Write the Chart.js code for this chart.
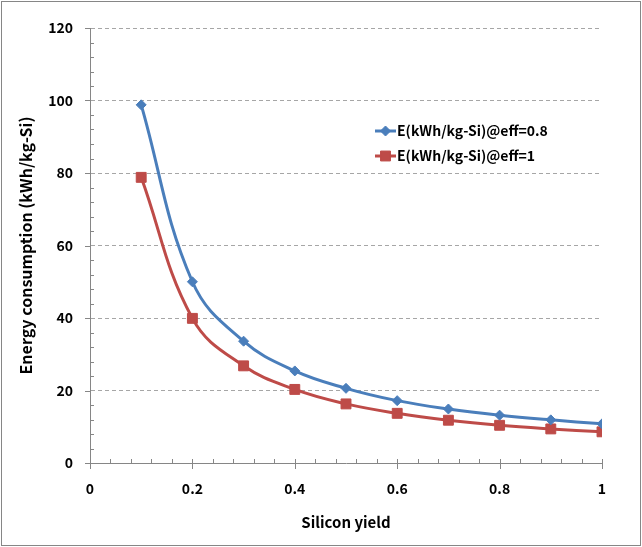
<!DOCTYPE html>
<html>
<head>
<meta charset="utf-8">
<script src="https://cdn.jsdelivr.net/npm/chart.js@4.4.1/dist/chart.umd.min.js"></script>
<style>
  html, body { margin: 0; padding: 0; background: #fff; }
  #c { display: block; }
</style>
</head>
<body>
<canvas id="c" width="642" height="547"></canvas>
<script>
// ---- data ----
const siliconYield = [0.1, 0.2, 0.3, 0.4, 0.5, 0.6, 0.7, 0.8, 0.9, 1.0];
const energyEff08 = [98.8, 50.0, 33.6, 25.4, 20.6, 17.2, 14.9, 13.2, 11.9, 10.8];
const energyEff1  = [78.8, 39.9, 26.8, 20.3, 16.3, 13.7, 11.8, 10.4, 9.4, 8.6];
const seriesLabels = ['E(kWh/kg-Si)@eff=0.8', 'E(kWh/kg-Si)@eff=1'];
const xTickLabels = ['0', '0.2', '0.4', '0.6', '0.8', '1'];
const yTickLabels = ['0', '20', '40', '60', '80', '100', '120'];

const FONT = "'Noto Sans CJK KR', 'Noto Sans', sans-serif";
const AXIS_COLOR = '#868686';

function pts(xs, ys) { return xs.map((x, i) => ({ x: x, y: ys[i] })); }

// custom tick marks (major crossing, minor inside) + legend + outer border
const decorPlugin = {
  id: 'decor',
  afterDraw(chart) {
    const ctx = chart.ctx;
    const xs = chart.scales.x, ys = chart.scales.y;
    const ca = chart.chartArea;
    ctx.save();
    ctx.strokeStyle = AXIS_COLOR;
    ctx.lineWidth = 1;
    // y ticks
    const yt = ys.ticks.map(t => t.value);
    for (let i = 0; i < yt.length; i++) {
      const py = Math.round(ys.getPixelForValue(yt[i])) + 0.5;
      ctx.beginPath(); ctx.moveTo(ca.left - 5, py); ctx.lineTo(ca.left + 0.5, py); ctx.stroke();
      if (i < yt.length - 1) {
        const step = (yt[i + 1] - yt[i]) / 5;
        for (let k = 1; k < 5; k++) {
          const my = Math.round(ys.getPixelForValue(yt[i] + k * step)) + 0.5;
          ctx.beginPath(); ctx.moveTo(ca.left, my); ctx.lineTo(ca.left + 4, my); ctx.stroke();
        }
      }
    }
    // x ticks
    const xt = xs.ticks.map(t => t.value);
    for (let i = 0; i < xt.length; i++) {
      const px = Math.round(xs.getPixelForValue(xt[i])) + 0.5;
      ctx.beginPath(); ctx.moveTo(px, ca.bottom - 4); ctx.lineTo(px, ca.bottom + 6); ctx.stroke();
      if (i < xt.length - 1) {
        const step = (xt[i + 1] - xt[i]) / 5;
        for (let k = 1; k < 5; k++) {
          const mx = Math.round(xs.getPixelForValue(xt[i] + k * step)) + 0.5;
          ctx.beginPath(); ctx.moveTo(mx, ca.bottom); ctx.lineTo(mx, ca.bottom - 4); ctx.stroke();
        }
      }
    }
    // legend
    const lx = 375, ly0 = 131, gap = 25;
    chart.data.datasets.forEach((ds, i) => {
      const y = ly0 + i * gap;
      ctx.strokeStyle = ds.borderColor;
      ctx.lineWidth = 3;
      ctx.beginPath(); ctx.moveTo(lx, y); ctx.lineTo(lx + 21, y); ctx.stroke();
      ctx.fillStyle = ds.pointBackgroundColor;
      ctx.strokeStyle = ds.pointBorderColor;
      ctx.lineWidth = 1;
      Chart.helpers.drawPoint(ctx, { pointStyle: ds.pointStyle, radius: ds.pointRadius, borderWidth: 1 }, lx + 10.5, y);
      ctx.fillStyle = '#000';
      ctx.font = 'bold 14px ' + FONT;
      ctx.textBaseline = 'middle';
      ctx.textAlign = 'left';
      ctx.fillText(ds.label, lx + 22, y);
    });
    // outer border
    ctx.strokeStyle = AXIS_COLOR;
    ctx.lineWidth = 1;
    ctx.strokeRect(1.5, 1.5, chart.width - 3, chart.height - 3);
    ctx.restore();
  }
};

new Chart(document.getElementById('c'), {
  type: 'line',
  data: {
    datasets: [
      {
        label: seriesLabels[0],
        data: pts(siliconYield, energyEff08),
        borderColor: '#4A7EBB',
        backgroundColor: '#4A7EBB',
        pointBackgroundColor: '#4A7EBB',
        pointBorderColor: '#4A7EBB',
        pointStyle: 'rectRot',
        pointRadius: 5,
        pointBorderWidth: 1,
        borderWidth: 3,
        tension: 0.4,
        fill: false
      },
      {
        label: seriesLabels[1],
        data: pts(siliconYield, energyEff1),
        borderColor: '#BE4B48',
        backgroundColor: '#BE4B48',
        pointBackgroundColor: '#BE4B48',
        pointBorderColor: '#BE4B48',
        pointStyle: 'rect',
        pointRadius: 7,
        pointBorderWidth: 1,
        borderWidth: 3,
        tension: 0.4,
        fill: false
      }
    ]
  },
  options: {
    responsive: false,
    animation: false,
    devicePixelRatio: 1,
    layout: { padding: { left: 0, top: 28, right: 40, bottom: 0 } },
    plugins: {
      legend: { display: false },
      tooltip: { enabled: false }
    },
    scales: {
      x: {
        type: 'linear',
        min: 0, max: 1,
        afterFit(s) { s.height = 84; },
        ticks: {
          stepSize: 0.2,
          padding: 17,
          color: '#000',
          font: { family: FONT, size: 14, weight: 'bold' },
          callback: (v, i) => xTickLabels[i]
        },
        grid: { drawOnChartArea: false, drawTicks: false },
        border: { display: true, color: AXIS_COLOR, width: 1 },
        title: {
          display: true,
          text: 'Silicon yield',
          color: '#000',
          font: { family: FONT, size: 15, weight: 'bold' },
          padding: { top: 0, bottom: 16 }
        }
      },
      y: {
        type: 'linear',
        min: 0, max: 120,
        afterFit(s) { s.width = 90; },
        ticks: {
          stepSize: 20,
          padding: 17,
          color: '#000',
          font: { family: FONT, size: 14, weight: 'bold' },
          callback: (v, i) => yTickLabels[i]
        },
        grid: {
          drawTicks: false,
          color: (c) => (c.tick && c.tick.value === 0) ? 'rgba(0,0,0,0)' : '#A6A6A6',
          lineWidth: 1
        },
        border: { display: true, color: AXIS_COLOR, width: 1, dash: [4, 3] },
        title: {
          display: true,
          text: 'Energy consumption (kWh/kg-Si)',
          color: '#000',
          font: { family: FONT, size: 16, weight: 'bold' },
          padding: { top: 16, bottom: 0 }
        }
      }
    }
  },
  plugins: [decorPlugin]
});
</script>
</body>
</html>
